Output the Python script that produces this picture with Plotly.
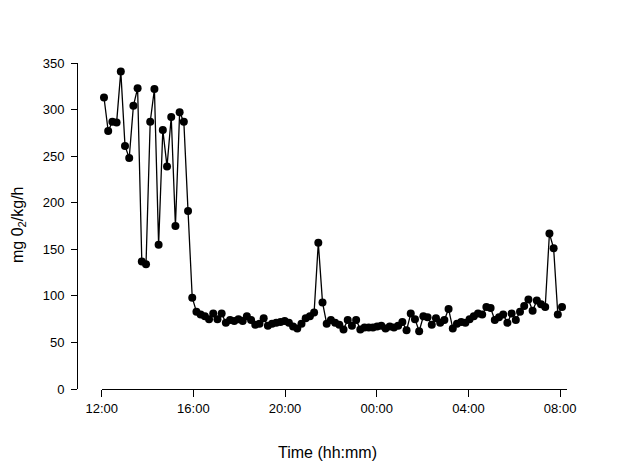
import plotly.graph_objects as go
from datetime import datetime, timedelta

# Sample times (hh:mm), starting at 12:06 on day 1 and running into the next morning
time_labels = [
    "12:06", "12:17", "12:28", "12:39", "12:50", "13:01", "13:12", "13:23", "13:34", "13:45",
    "13:56", "14:07", "14:18", "14:29", "14:40", "14:51", "15:02", "15:13", "15:24", "15:35",
    "15:46", "15:57", "16:08", "16:19", "16:30", "16:41", "16:52", "17:03", "17:14", "17:25",
    "17:36", "17:47", "17:58", "18:09", "18:20", "18:31", "18:42", "18:53", "19:04", "19:15",
    "19:26", "19:37", "19:48", "19:59", "20:10", "20:21", "20:32", "20:43", "20:54", "21:05",
    "21:16", "21:27", "21:38", "21:49", "22:00", "22:11", "22:22", "22:33", "22:44", "22:55",
    "23:06", "23:17", "23:28", "23:39", "23:50", "00:01", "00:12", "00:23", "00:34", "00:45",
    "00:56", "01:07", "01:18", "01:29", "01:40", "01:51", "02:02", "02:13", "02:24", "02:35",
    "02:46", "02:57", "03:08", "03:19", "03:30", "03:41", "03:52", "04:03", "04:14", "04:25",
    "04:36", "04:47", "04:58", "05:09", "05:20", "05:31", "05:42", "05:53", "06:04", "06:15",
    "06:26", "06:37", "06:48", "06:59", "07:10", "07:21", "07:32", "07:43", "07:54", "08:05",
]

# Oxygen consumption (mg O2/kg/h)
mo2_values = [
    313, 277, 287, 286, 341, 261, 248, 304, 323, 137,
    134, 287, 322, 155, 278, 239, 292, 175, 297, 287,
    191, 98, 83, 80, 78, 75, 81, 75, 81, 71,
    74, 73, 75, 73, 78, 74, 69, 70, 76, 68,
    70, 71, 72, 73, 71, 67, 65, 70, 76, 78,
    82, 157, 93, 70, 74, 71, 69, 64, 74, 68,
    74, 64, 66, 66, 66, 67, 68, 65, 67, 66,
    68, 72, 63, 81, 75, 62, 78, 77, 69, 76,
    71, 74, 86, 65, 70, 72, 71, 75, 78, 81,
    80, 88, 87, 74, 77, 80, 71, 81, 74, 83,
    89, 96, 84, 95, 91, 88, 167, 151, 80, 88,
]

tick_labels = ["12:00", "16:00", "20:00", "00:00", "04:00", "08:00"]
y_ticks = [0, 50, 100, 150, 200, 250, 300, 350]

day0 = datetime(2000, 1, 1)


def to_dt(label):
    h, m = map(int, label.split(":"))
    d = day0 + timedelta(hours=h, minutes=m)
    if h < 12:
        d += timedelta(days=1)
    return d


times = [to_dt(t) for t in time_labels]
tick_vals = [to_dt(t) for t in tick_labels]

FONT = "Liberation Sans, Arial, sans-serif"

fig = go.Figure()
fig.add_trace(go.Scatter(
    x=times, y=mo2_values, mode="lines+markers",
    line=dict(color="black", width=1.3),
    marker=dict(color="black", size=8),
    cliponaxis=False, showlegend=False,
))

W, H = 623, 465
ml, mr, mt, mb = 77, 56, 63, 76
pw = W - ml - mr

fig.update_layout(
    width=W, height=H,
    margin=dict(l=ml, r=mr, t=mt, b=mb),
    paper_bgcolor="white", plot_bgcolor="white",
    font=dict(family=FONT, size=13, color="black"),
    xaxis=dict(
        domain=[(101.7 - ml) / pw, 1],
        range=[to_dt("12:00"), to_dt("08:00") + timedelta(minutes=18)],
        tickvals=tick_vals, ticktext=tick_labels,
        showline=True, linecolor="black", linewidth=1,
        ticks="outside", ticklen=7, tickcolor="black", tickwidth=1,
        showgrid=False, zeroline=False, anchor="y",
        tickfont=dict(family=FONT, size=13),
    ),
    yaxis=dict(
        range=[0, 350], tickvals=y_ticks,
        anchor="free", position=0,
        showline=True, linecolor="black", linewidth=1,
        ticks="outside", ticklen=6, tickcolor="black", tickwidth=1,
        ticklabelstandoff=4,
        showgrid=False, zeroline=False,
        tickfont=dict(family=FONT, size=13),
    ),
    annotations=[
        dict(text="Time (hh:mm)", xref="paper", yref="paper",
             x=(327 - ml) / pw, y=-(452 - (H - mb)) / (H - mt - mb),
             showarrow=False, font=dict(family=FONT, size=16),
             xanchor="center", yanchor="middle"),
        dict(text="mg 0<sub>2</sub>/kg/h", xref="paper", yref="paper",
             x=-(ml - 18) / pw, y=(H - mb - 225) / (H - mt - mb),
             showarrow=False, textangle=-90, font=dict(family=FONT, size=16),
             xanchor="center", yanchor="middle"),
    ],
)

fig.write_html("out.html")
